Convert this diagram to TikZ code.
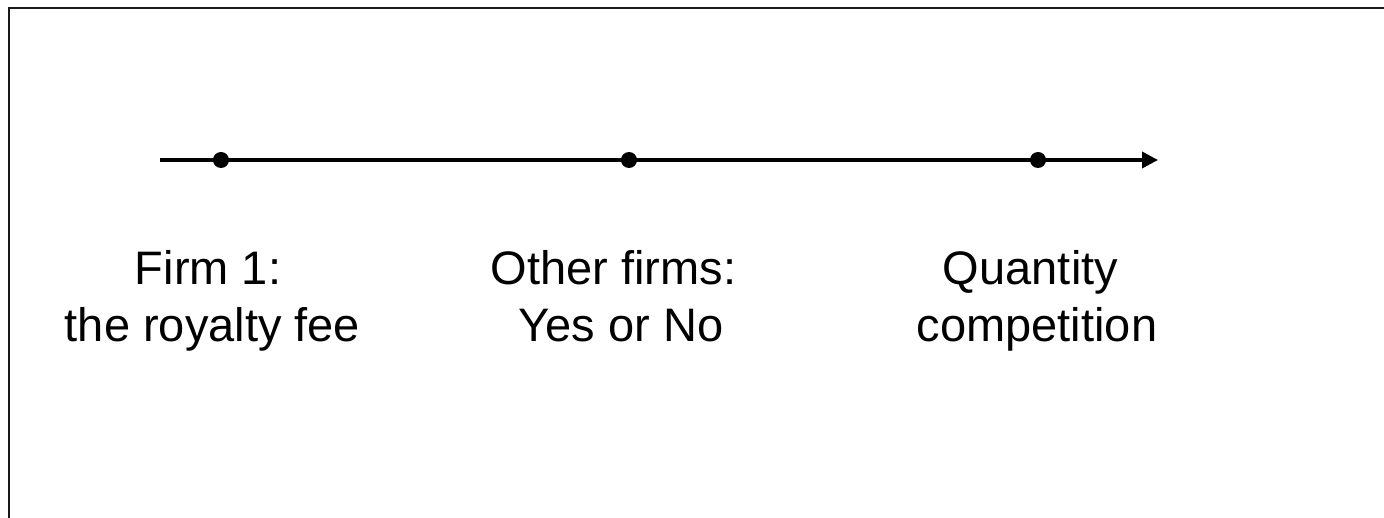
\documentclass[tikz,border=0pt]{standalone}
\usepackage{fontspec}
\setmainfont{Liberation Sans}
\usetikzlibrary{arrows.meta}
\begin{document}
\begin{tikzpicture}[x=1pt,y=-1pt,
  frame/.style={line width=2pt,black!90},
  timeline/.style={line width=3.5pt,-{Triangle[length=16pt,width=16pt]}},
  event/.style={circle,fill=black,inner sep=0pt,minimum size=16pt},
  lbl/.style={anchor=base,inner sep=0pt,font=\fontsize{47}{57}\selectfont}]
\useasboundingbox (0,0) rectangle (1384,518);
\fill[white] (0,0) rectangle (1384,518);
% frame (left and top edges only visible)
\coordinate (fbl) at (9,518);
\coordinate (ftl) at (9,8.5);
\coordinate (ftr) at (1384,8.5);
\draw[frame] (fbl) -- (ftl) -- (ftr);
% timeline
\coordinate (start) at (160,160);
\coordinate (end) at (1158,160);
\draw[timeline] (start) -- (end);
\node[event] (e1) at (221,160) {};
\node[event] (e2) at (629,160) {};
\node[event] (e3) at (1038,160) {};
% labels
\node[lbl] (l1a) at (208,285) {Firm 1:};
\node[lbl] (l1b) at (212.5,342) {the royalty fee};
\node[lbl] (l2a) at (613.5,285) {Other firms:};
\node[lbl] (l2b) at (621,342) {Yes or No};
\node[lbl] (l3a) at (1030.5,285) {Quantity};
\node[lbl] (l3b) at (1037,342) {competition};
\end{tikzpicture}
\end{document}
